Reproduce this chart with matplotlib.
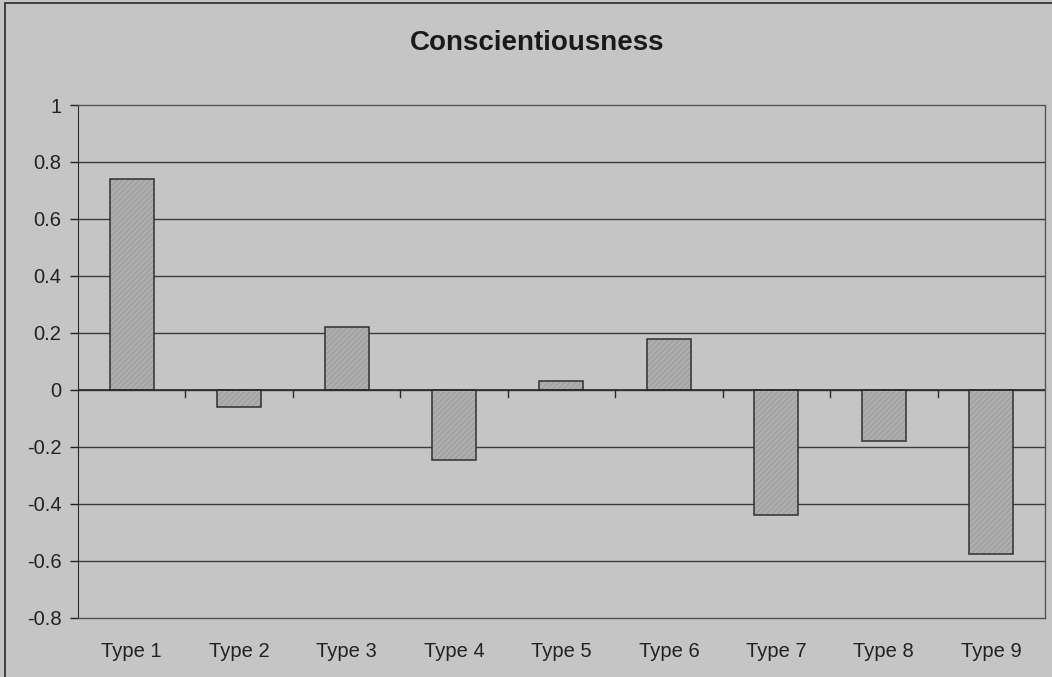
import matplotlib.pyplot as plt
import numpy as np
from matplotlib.patches import Rectangle

types = ["Type 1", "Type 2", "Type 3", "Type 4", "Type 5",
         "Type 6", "Type 7", "Type 8", "Type 9"]
scores = [0.74, -0.06, 0.22, -0.245, 0.03, 0.18, -0.44, -0.18, -0.575]
yticks = [-0.8, -0.6, -0.4, -0.2, 0, 0.2, 0.4, 0.6, 0.8, 1]

plt.rcParams['font.family'] = ['Liberation Sans', 'DejaVu Sans']
plt.rcParams['hatch.linewidth'] = 0.6

bg = '#c5c5c5'
fig = plt.figure(figsize=(10.52, 6.77), dpi=100, facecolor=bg)
ax = fig.add_axes([0.0741, 0.0872, 0.9192, 0.7577], facecolor=bg)

# outer chart frame
fig.patches.append(Rectangle((0.005, -0.01), 1.2, 1.006, transform=fig.transFigure,
                             fill=False, edgecolor='#2a2a2a', linewidth=1.2))

x = np.arange(len(types))
# hatched fill, then dark outline on top
ax.bar(x, scores, width=0.41, color='#a4a4a4', edgecolor='#bcbcbc',
       hatch='//////', linewidth=0, zorder=3)
ax.bar(x, scores, width=0.41, fill=False, edgecolor='#303030',
       linewidth=1.1, zorder=4)

ax.set_xlim(-0.5, len(types) - 0.5)
ax.set_ylim(-0.8, 1)
ax.set_yticks(yticks)
ax.set_yticklabels([f"{v:g}" for v in yticks])
ax.set_xticks(x)
ax.set_xticklabels(types)
ax.tick_params(axis='x', length=0, pad=17, labelsize=14.5, colors='#222222')
ax.tick_params(axis='y', length=6, width=1, labelsize=14.5, colors='#222222', pad=6)

for v in yticks[1:-1]:
    ax.axhline(v, color='#3c3c3c', linewidth=1, zorder=1)
ax.axhline(0, color='#2a2a2a', linewidth=1.2, zorder=5)
# category separators on the zero line
for b in x[1:] - 0.5:
    ax.plot([b, b], [0, -0.025], color='#2a2a2a', linewidth=1, zorder=5)

for s in ['top', 'right']:
    ax.spines[s].set_linestyle((0, (1, 1)))
    ax.spines[s].set_color('#555555')
    ax.spines[s].set_linewidth(1)
ax.spines['left'].set_color('#2a2a2a')
ax.spines['bottom'].set_color('#505050')
ax.spines['bottom'].set_linewidth(1)

fig.text(0.511, 0.936, "Conscientiousness", ha='center', va='center',
         fontsize=20, fontweight='bold', color='#1a1a1a')

fig.savefig("out.png", dpi=100, facecolor=bg)
